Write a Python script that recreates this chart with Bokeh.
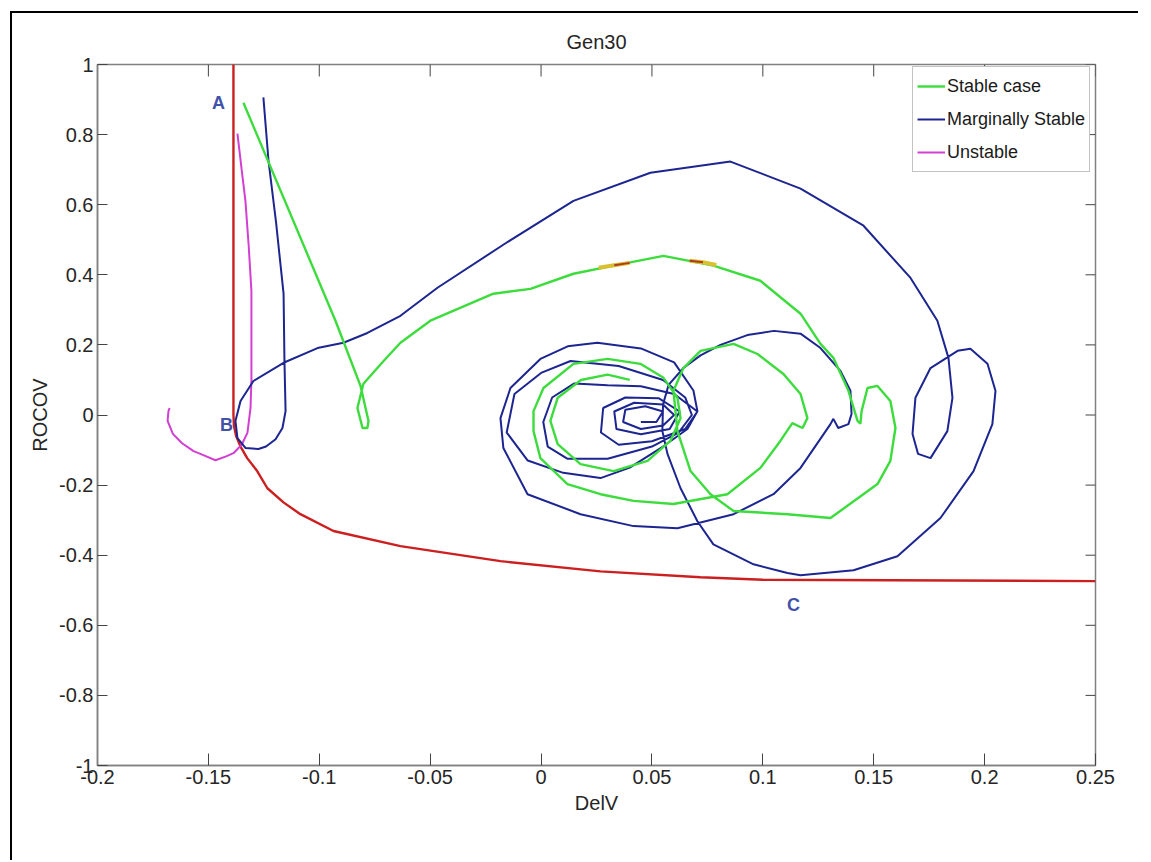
from bokeh.plotting import figure
from bokeh.models import FixedTicker, Range1d, Legend, LegendItem, Label
from bokeh.embed import file_html
from bokeh.resources import INLINE

# ---------------- data ----------------
title_text = "Gen30"
x_label = "DelV"
y_label = "ROCOV"

x_ticks = [-0.2, -0.15, -0.1, -0.05, 0.0, 0.05, 0.1, 0.15, 0.2, 0.25]
x_tick_labels = ["-0.2", "-0.15", "-0.1", "-0.05", "0", "0.05", "0.1", "0.15", "0.2", "0.25"]
y_ticks = [-1.0, -0.8, -0.6, -0.4, -0.2, 0.0, 0.2, 0.4, 0.6, 0.8, 1.0]
y_tick_labels = ["-1", "-0.8", "-0.6", "-0.4", "-0.2", "0", "0.2", "0.4", "0.6", "0.8", "1"]

series_names = ["Stable case", "Marginally Stable", "Unstable"]

# boundary curve (red)
red_x = [-0.1387, -0.1387, -0.1385, -0.1375, -0.1355, -0.1325, -0.1280, -0.1234,
         -0.1160, -0.1085, -0.0936, -0.0634, -0.0183, 0.0268, 0.0719, 0.1000, 0.2500]
red_y = [1.01, 0.0, -0.03, -0.06, -0.09, -0.123, -0.16, -0.209,
         -0.25, -0.283, -0.331, -0.374, -0.417, -0.446, -0.463, -0.470, -0.474]

# Unstable (magenta)
unstable_x = [-0.1369, -0.1350, -0.1333, -0.1318, -0.1306, -0.1306, -0.1306, -0.1310,
              -0.1324, -0.1350, -0.1387, -0.1420, -0.1468, -0.1520, -0.1567, -0.1620,
              -0.1660, -0.1684, -0.1680, -0.1675]
unstable_y = [0.803, 0.70, 0.611, 0.48, 0.354, 0.231, 0.10, 0.02,
              -0.051, -0.085, -0.109, -0.118, -0.129, -0.115, -0.103, -0.08,
              -0.054, -0.017, 0.011, 0.02]

# Marginally Stable (navy)
marginal_x = [-0.1252, -0.1229, -0.1195, -0.1161, -0.1157, -0.1152, -0.1166, -0.1197,
              -0.1240, -0.1274, -0.1333, -0.1369, -0.1378, -0.1355, -0.1297, -0.1161,
              -0.1008, -0.0891, -0.0783, -0.0634, -0.0467, -0.0160, 0.0146, 0.0493,
              0.0854, 0.1170, 0.1454, 0.1666, 0.1787, 0.1837, 0.1855, 0.1832,
              0.1756, 0.1700, 0.1675, 0.1688, 0.1756, 0.1878, 0.1936, 0.2013,
              0.2049, 0.2035, 0.1950, 0.1801, 0.1607, 0.1409, 0.1170, 0.1111,
              0.0958, 0.0777, 0.0705, 0.0629, 0.0570, 0.0547, 0.0550, 0.0575,
              0.0642, 0.0719, 0.0809, 0.0930, 0.1050, 0.1170, 0.1260, 0.1350,
              0.1395, 0.1400, 0.1386, 0.1340, 0.1318, 0.1305, 0.1170, 0.1048,
              0.0868, 0.0615, 0.0417, 0.0178, -0.0061, -0.0170, -0.0183, -0.0138,
              -0.0003, 0.0120, 0.0254, 0.0450, 0.0600, 0.0687, 0.0705, 0.0660,
              0.0550, 0.0400, 0.0268, 0.0100, -0.0060, -0.0155, -0.0120, 0.0000,
              0.0133, 0.0350, 0.0550, 0.0650, 0.0680, 0.0620, 0.0500, 0.0300,
              0.0120, 0.0030, 0.0010, 0.0050, 0.0150, 0.0300, 0.0450, 0.0600,
              0.0705, 0.0650, 0.0500, 0.0350, 0.0270, 0.0280, 0.0380, 0.0530,
              0.0625, 0.0580, 0.0450, 0.0340, 0.0330, 0.0420, 0.0550, 0.0600,
              0.0550, 0.0450, 0.0370, 0.0380, 0.0470, 0.0550, 0.0520, 0.0450]
marginal_y = [0.906, 0.726, 0.55, 0.346, 0.154, 0.011, -0.037, -0.069,
              -0.090, -0.097, -0.094, -0.066, -0.017, 0.04, 0.097, 0.149,
              0.191, 0.206, 0.234, 0.283, 0.363, 0.49, 0.611, 0.691,
              0.723, 0.646, 0.54, 0.391, 0.269, 0.163, 0.049, -0.046,
              -0.123, -0.111, -0.054, 0.049, 0.134, 0.183, 0.189, 0.146,
              0.069, -0.026, -0.16, -0.294, -0.403, -0.443, -0.457, -0.451,
              -0.426, -0.369, -0.303, -0.209, -0.111, -0.046, 0.03, 0.086,
              0.134, 0.17, 0.2, 0.228, 0.24, 0.232, 0.191, 0.126,
              0.069, 0.003, -0.026, -0.037, -0.011, -0.026, -0.151, -0.226,
              -0.283, -0.323, -0.317, -0.283, -0.226, -0.094, -0.009, 0.077,
              0.16, 0.196, 0.206, 0.19, 0.15, 0.07, 0.011, -0.04,
              -0.09, -0.15, -0.18, -0.165, -0.13, -0.05, 0.06, 0.12,
              0.154, 0.14, 0.10, 0.05, 0.0, -0.05, -0.09, -0.125,
              -0.125, -0.09, -0.02, 0.05, 0.09, 0.085, 0.082, 0.06,
              0.01, -0.04, -0.075, -0.085, -0.05, 0.02, 0.05, 0.048,
              0.01, -0.04, -0.055, -0.04, 0.01, 0.035, 0.03, 0.0,
              -0.03, -0.04, -0.02, 0.015, 0.025, 0.01, -0.02, -0.02]

# Stable case (green)
stable_x = [-0.1342, -0.0927, -0.0814, -0.0778, -0.0783, -0.0805, -0.0828, -0.0801,
            -0.0710, -0.0634, -0.0499, -0.0215, -0.0048, 0.0146, 0.0327, 0.0552,
            0.0777, 0.0989, 0.1170, 0.1260, 0.1318, 0.1386, 0.1427, 0.1440,
            0.1445, 0.1472, 0.1517, 0.1575, 0.1598, 0.1575, 0.1517, 0.1305,
            0.1111, 0.0868, 0.0764, 0.0674, 0.0615, 0.0597, 0.0642, 0.0719,
            0.0868, 0.0976, 0.1093, 0.1170, 0.1201, 0.1179, 0.1133, 0.1079,
            0.0989, 0.0840, 0.0597, 0.0417, 0.0268, 0.0119, -0.0003, -0.0034,
            -0.0034, 0.0011, 0.0146, 0.0300, 0.0448, 0.0552, 0.0615, 0.0629,
            0.0583, 0.0480, 0.0327, 0.0178, 0.0075, 0.0042, 0.0075, 0.0180,
            0.0300, 0.0400]
stable_y = [0.891, 0.269, 0.083, -0.017, -0.037, -0.037, 0.02, 0.089,
            0.154, 0.206, 0.269, 0.346, 0.36, 0.403, 0.426, 0.454,
            0.426, 0.383, 0.289, 0.203, 0.163, 0.069, -0.017, -0.025,
            0.01, 0.077, 0.083, 0.04, -0.037, -0.131, -0.197, -0.294,
            -0.283, -0.274, -0.226, -0.16, -0.046, 0.069, 0.134, 0.183,
            0.203, 0.174, 0.117, 0.06, -0.009, -0.037, -0.023, -0.074,
            -0.151, -0.226, -0.254, -0.245, -0.226, -0.197, -0.123, -0.046,
            0.011, 0.077, 0.146, 0.16, 0.146, 0.106, 0.049, -0.009,
            -0.074, -0.131, -0.16, -0.14, -0.083, -0.017, 0.049, 0.10,
            0.115, 0.10]

# small highlighted marks on the stable curve
mark1_x = [0.026, 0.033, 0.040]
mark1_y = [0.420, 0.427, 0.434]
mark2_x = [0.067, 0.073, 0.079]
mark2_y = [0.440, 0.436, 0.428]

point_labels = ["A", "B", "C"]
point_x = [-0.1454, -0.1418, 0.1138]
point_y = [0.891, -0.029, -0.543]

# ---------------- styling ----------------
FONT = "'Liberation Sans', Arial, sans-serif"
TXT = "#262626"
AX = "#808080"
GREEN = "#3ddc3d"
NAVY = "#1c2590"
MAGENTA = "#d23fd2"
RED = "#cc1f1f"

X0, X1 = -0.2, 0.25
Y0, Y1 = -1.0, 1.0
FRAME_W, FRAME_H = 998, 701

p = figure(width=1128, height=849, output_backend="svg", toolbar_location=None,
           x_range=Range1d(X0, X1), y_range=Range1d(Y0, Y1),
           min_border_left=85, min_border_right=45, min_border_top=51,
           min_border_bottom=97, background_fill_color="white",
           border_fill_color="white")
p.styles = {"margin-left": "10px", "margin-top": "11px",
            "border-left": "2px solid black", "border-top": "2px solid black",
            "overflow": "hidden"}
p.outline_line_color = AX
p.outline_line_width = 1.5
p.xgrid.visible = False
p.ygrid.visible = False

p.title.text = title_text
p.title.align = "center"
p.title.text_font = FONT
p.title.text_font_size = "20px"
p.title.text_font_style = "normal"
p.title.text_color = TXT
p.title.standoff = 23

xax = p.below[0]
yax = p.left[0]
xax.ticker = FixedTicker(ticks=x_ticks)
xax.major_label_overrides = {t: l for t, l in zip(x_ticks, x_tick_labels)}
yax.ticker = FixedTicker(ticks=y_ticks)
yax.major_label_overrides = {t: l for t, l in zip(y_ticks, y_tick_labels)}

for ax in [xax, yax]:
    ax.axis_line_color = AX
    ax.axis_line_width = 1.5
    ax.major_tick_line_color = "#444444"
    ax.major_tick_line_width = 1
    ax.major_tick_out = 0
    ax.minor_tick_in = 0
    ax.minor_tick_out = 0
    ax.major_label_text_font = FONT
    ax.major_label_text_font_size = "20px"
    ax.major_label_text_color = TXT
    ax.major_label_standoff = 4
    ax.axis_label_text_font = FONT
    ax.axis_label_text_font_size = "20px"
    ax.axis_label_text_font_style = "normal"
    ax.axis_label_text_color = TXT
    ax.axis_label_standoff = 5
xax.major_tick_in = 12
yax.major_tick_in = 10
xax.axis_label = x_label
yax.axis_label = y_label

# mirrored inward ticks on top and right edges (MATLAB box style)
tick_len_y = 12 * (Y1 - Y0) / FRAME_H
tick_len_x = 10 * (X1 - X0) / FRAME_W
p.segment(x0=x_ticks, y0=[Y1] * len(x_ticks), x1=x_ticks,
          y1=[Y1 - tick_len_y] * len(x_ticks), line_color="#444444", line_width=1)
p.segment(x0=[X1] * len(y_ticks), y0=y_ticks, x1=[X1 - tick_len_x] * len(y_ticks),
          y1=y_ticks, line_color="#444444", line_width=1)

# ---------------- glyphs ----------------
r_red = p.line(red_x, red_y, line_color=RED, line_width=2.4)
r_mag = p.line(unstable_x, unstable_y, line_color=MAGENTA, line_width=2)
r_navy = p.line(marginal_x, marginal_y, line_color=NAVY, line_width=2)
r_green = p.line(stable_x, stable_y, line_color=GREEN, line_width=2.4)
p.line(mark1_x, mark1_y, line_color="#d8c030", line_width=4)
p.line(mark2_x, mark2_y, line_color="#d8c030", line_width=4)
p.line(mark1_x[1:], mark1_y[1:], line_color="#b03a20", line_width=2)
p.line(mark2_x[:2], mark2_y[:2], line_color="#b03a20", line_width=2)

for t, x, y in zip(point_labels, point_x, point_y):
    p.add_layout(Label(x=x, y=y, text=t, text_font=FONT, text_font_size="18px",
                       text_font_style="bold", text_color="#4152a8",
                       text_align="center", text_baseline="middle"))

legend = Legend(items=[LegendItem(label=series_names[0], renderers=[r_green]),
                       LegendItem(label=series_names[1], renderers=[r_navy]),
                       LegendItem(label=series_names[2], renderers=[r_mag])],
                location=(815, 593))
legend.label_text_font = FONT
legend.label_text_font_size = "18px"
legend.label_text_color = "#1a1a1a"
legend.glyph_width = 28
legend.glyph_height = 30
legend.label_height = 30
legend.label_standoff = 2
legend.spacing = 3
legend.padding = 4
legend.border_line_color = "#888888"
legend.border_line_width = 1.5
legend.background_fill_color = "white"
legend.background_fill_alpha = 1
p.add_layout(legend)

open("out.html", "w").write(file_html(p, INLINE))
